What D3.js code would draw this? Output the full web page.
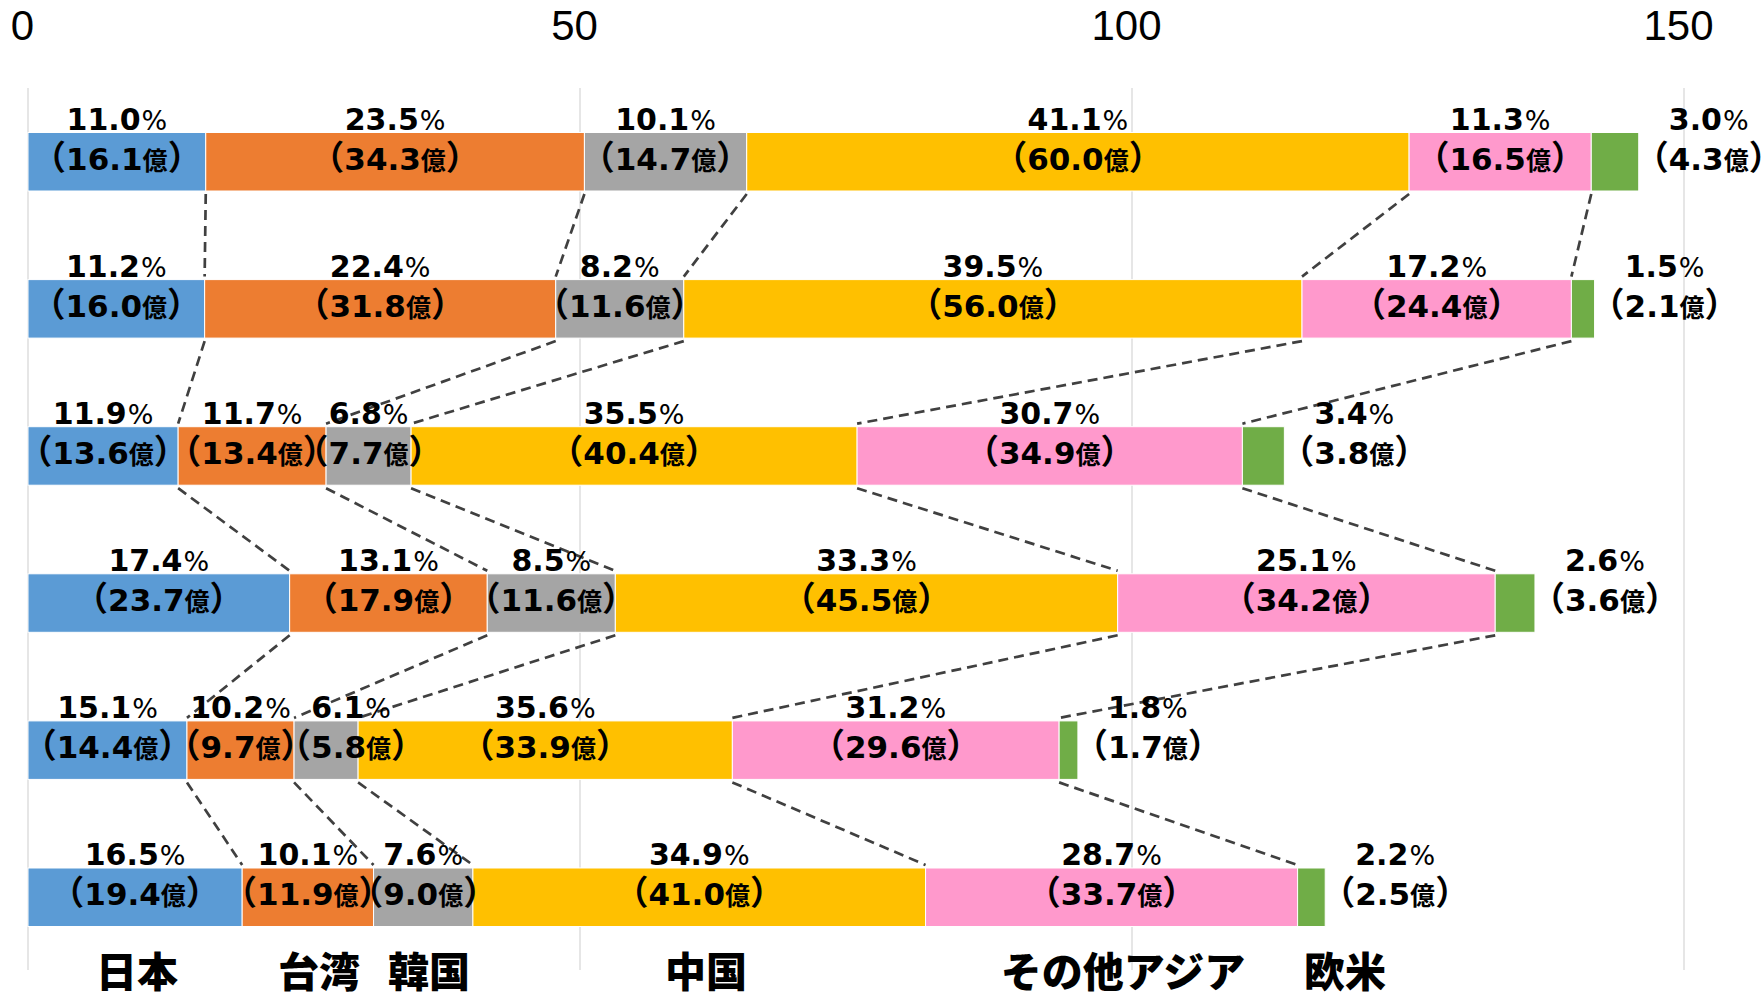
<!DOCTYPE html>
<html>
<head>
<meta charset="utf-8">
<script src="https://cdn.jsdelivr.net/npm/d3@7"></script>
<style>
  html, body { margin: 0; padding: 0; background: #fff; }
  svg { display: block; }
</style>
</head>
<body>
<svg id="chart" width="1764" height="992"></svg>
<script>
// ---- data: amounts (億) and shares (%) per destination, one entry per bar (top to bottom)
const seriesNames = ["日本", "台湾", "韓国", "中国", "その他アジア", "欧米"];
const japanAmt     = [16.1, 16.0, 13.6, 23.7, 14.4, 19.4];
const japanPct     = [11.0, 11.2, 11.9, 17.4, 15.1, 16.5];
const taiwanAmt    = [34.3, 31.8, 13.4, 17.9,  9.7, 11.9];
const taiwanPct    = [23.5, 22.4, 11.7, 13.1, 10.2, 10.1];
const koreaAmt     = [14.7, 11.6,  7.7, 11.6,  5.8,  9.0];
const koreaPct     = [10.1,  8.2,  6.8,  8.5,  6.1,  7.6];
const chinaAmt     = [60.0, 56.0, 40.4, 45.5, 33.9, 41.0];
const chinaPct     = [41.1, 39.5, 35.5, 33.3, 35.6, 34.9];
const otherAsiaAmt = [16.5, 24.4, 34.9, 34.2, 29.6, 33.7];
const otherAsiaPct = [11.3, 17.2, 30.7, 25.1, 31.2, 28.7];
const westAmt      = [ 4.3,  2.1,  3.8,  3.6,  1.7,  2.5];
const westPct      = [ 3.0,  1.5,  3.4,  2.6,  1.8,  2.2];
const xTicks = [0, 50, 100, 150];

const amountArrays = [japanAmt, taiwanAmt, koreaAmt, chinaAmt, otherAsiaAmt, westAmt];
const pctArrays    = [japanPct, taiwanPct, koreaPct, chinaPct, otherAsiaPct, westPct];
const colors = ["#5B9BD5", "#ED7D31", "#A5A5A5", "#FFC000", "#FF99CC", "#70AD47"];

const rowCount = japanAmt.length;
const table = d3.range(rowCount).map(i => {
  const r = { row: i };
  seriesNames.forEach((s, k) => { r[s] = amountArrays[k][i]; });
  return r;
});
const stacked = d3.stack().keys(seriesNames)(table);

// ---- layout
const svg = d3.select("#chart");
const x = d3.scaleLinear().domain([0, 150]).range([28, 1684]);
const y = d3.scaleBand().domain(d3.range(rowCount)).range([132.5, 926.5])
  .paddingInner(0.6023).paddingOuter(0);
const bw = y.bandwidth();

const NUM_FONT = "'DejaVu Sans', 'Noto Sans', sans-serif";
const CJK_FONT = "'Noto Sans CJK JP', 'Noto Sans', sans-serif";
const fmt = d3.format(".1f");

// gridlines
svg.append("g").selectAll("line").data(xTicks).join("line")
  .attr("x1", d => x(d)).attr("x2", d => x(d))
  .attr("y1", 88).attr("y2", 970)
  .attr("stroke", "#D9D9D9").attr("stroke-width", 1.3);

// top axis labels
const axis = d3.axisTop(x).tickValues(xTicks).tickSize(0).tickPadding(0);
const axisG = svg.append("g").attr("transform", "translate(-6,40)").call(axis);
axisG.select(".domain").remove();
axisG.selectAll("text")
  .attr("font-family", "'Liberation Sans Narrow', 'Liberation Sans', sans-serif")
  .attr("font-size", 42).attr("fill", "#000").attr("dy", 0);

// dashed series lines between neighbouring bars
const connectors = [];
for (let i = 0; i < rowCount - 1; i++) {
  for (let k = 0; k < seriesNames.length - 1; k++) {
    connectors.push({
      x1: x(stacked[k][i][1]), y1: y(i) + bw + 3,
      x2: x(stacked[k][i + 1][1]), y2: y(i + 1) - 3
    });
  }
}
svg.append("g").selectAll("line").data(connectors).join("line")
  .attr("x1", d => d.x1).attr("y1", d => d.y1)
  .attr("x2", d => d.x2).attr("y2", d => d.y2)
  .attr("stroke", "#404040").attr("stroke-width", 2.7)
  .attr("stroke-dasharray", "10,6");

// bars
svg.append("g").selectAll("g").data(stacked).join("g")
  .attr("fill", (d, k) => colors[k])
  .selectAll("rect").data(d => d).join("rect")
  .attr("x", d => x(d[0]))
  .attr("y", (d, i) => y(i))
  .attr("width", d => x(d[1]) - x(d[0]))
  .attr("height", bw)
  .attr("stroke", "#fff").attr("stroke-width", 1);

// labels
const nudge = { "4-2": 25 };
const labelG = svg.append("g");

function pctLabel(g, cx, yy, v) {
  const t = g.append("text").attr("x", cx).attr("y", yy)
    .attr("text-anchor", "middle").attr("fill", "#000");
  t.append("tspan").attr("font-family", NUM_FONT).attr("font-weight", 700)
    .attr("font-size", 30).text(fmt(v));
  t.append("tspan").attr("font-family", NUM_FONT).attr("font-weight", 400)
    .attr("font-size", 27).attr("dx", 1).text("%");
  return t;
}
function amtLabel(g, xx, yy, v, anchor) {
  const t = g.append("text").attr("x", xx).attr("y", yy)
    .attr("text-anchor", anchor).attr("fill", "#000");
  t.append("tspan").attr("font-family", CJK_FONT).attr("font-weight", 700)
    .attr("font-size", 34).text("（");
  t.append("tspan").attr("font-family", NUM_FONT).attr("font-weight", 700)
    .attr("font-size", 31).text(fmt(v));
  t.append("tspan").attr("font-family", CJK_FONT).attr("font-weight", 700)
    .attr("font-size", 25).text("億");
  t.append("tspan").attr("font-family", CJK_FONT).attr("font-weight", 700)
    .attr("font-size", 34).text("）");
  return t;
}

stacked.forEach((layer, k) => {
  layer.forEach((d, i) => {
    const top = y(i);
    if (k < seriesNames.length - 1) {
      const cx = (x(d[0]) + x(d[1])) / 2 + (nudge[i + "-" + k] || 0);
      pctLabel(labelG, cx, top - 3, pctArrays[k][i]);
      amtLabel(labelG, cx, top + 37, amountArrays[k][i], "middle");
    } else {
      const a = amtLabel(labelG, x(d[1]) - 4, top + 37, amountArrays[k][i], "start");
      const len = a.node().getComputedTextLength();
      pctLabel(labelG, x(d[1]) - 4 + len / 2, top - 3, pctArrays[k][i]);
    }
  });
});

// destination names along the bottom
const nameX = [137, 319, 429, 706, 1123, 1345];
svg.append("g").selectAll("text").data(seriesNames).join("text")
  .attr("x", (d, k) => nameX[k]).attr("y", 987)
  .attr("text-anchor", "middle")
  .attr("font-family", CJK_FONT).attr("font-weight", 900)
  .attr("font-size", 41).attr("fill", "#000")
  .text(d => d);
</script>
</body>
</html>
